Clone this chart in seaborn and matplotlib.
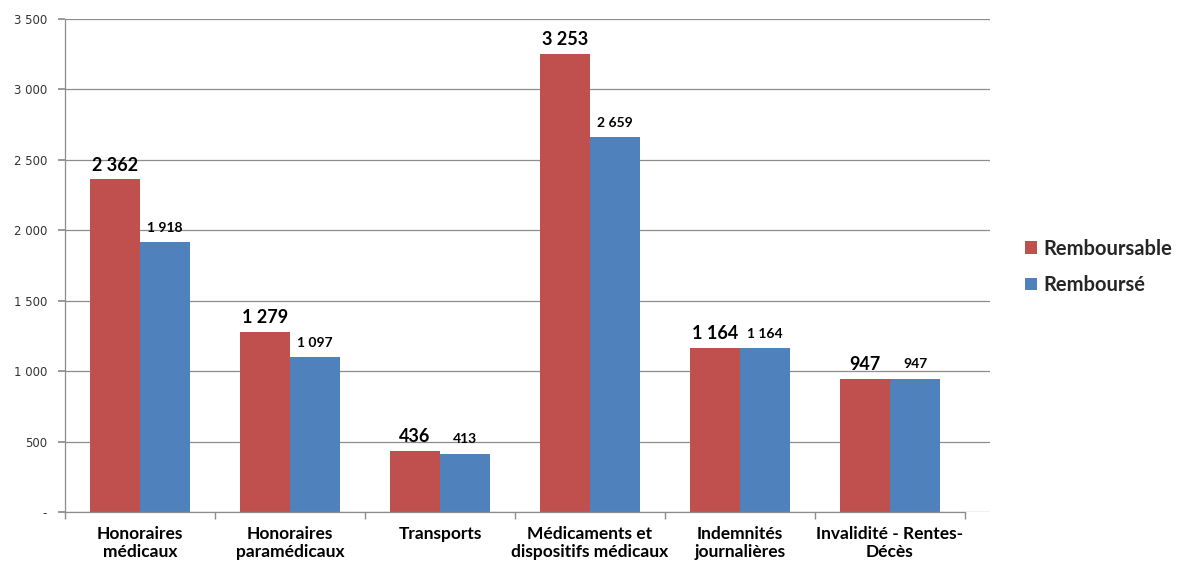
import matplotlib
matplotlib.use("Agg")
import matplotlib.pyplot as plt
import seaborn as sns
import pandas as pd
from matplotlib.ticker import FuncFormatter, FixedLocator

categories = ["Honoraires\nmédicaux", "Honoraires\nparamédicaux", "Transports",
              "Médicaments et\ndispositifs médicaux", "Indemnités\njournalières",
              "Invalidité - Rentes-\nDécès"]
remboursable = [2362, 1279, 436, 3253, 1164, 947]
rembourse = [1918, 1097, 413, 2659, 1164, 947]
series = ["Remboursable", "Remboursé"]
colors = ["#C0504D", "#4F81BD"]

df = pd.DataFrame({
    "cat": categories * 2,
    "val": remboursable + rembourse,
    "serie": [series[0]] * len(categories) + [series[1]] * len(categories),
})

sns.set_theme(style="white")
plt.rcParams["font.family"] = ["Lato", "DejaVu Sans"]

fig = plt.figure(figsize=(11.82, 5.63), dpi=100)
ax = fig.add_axes([65 / 1182, 1 - 512 / 563, 925 / 1182, 493 / 563])

sns.barplot(data=df, x="cat", y="val", hue="serie", palette=colors, width=0.667,
            saturation=1, ax=ax, edgecolor="none")

fmt = lambda v: f"{int(round(v)):,}".replace(",", " ")
for i, cont in enumerate(ax.containers):
    ax.bar_label(cont, labels=[fmt(b.get_height()) for b in cont],
                 fontsize=13 if i == 0 else 10, fontweight="bold",
                 padding=4 if i == 0 else 6, color="black")

n = len(categories)
ax.set_ylim(0, 3500)
ax.set_xlim(-0.5, n - 0.5 + 25 / 150)
ax.yaxis.set_major_locator(FixedLocator(range(0, 3501, 500)))
ax.yaxis.set_major_formatter(FuncFormatter(lambda v, p: "-" if v == 0 else fmt(v)))
ax.grid(axis="y", color="#8c8c8c", linewidth=0.9)
ax.set_axisbelow(True)
for s in ["top", "right"]:
    ax.spines[s].set_visible(False)
for s in ["left", "bottom"]:
    ax.spines[s].set_color("#8c8c8c")
    ax.spines[s].set_linewidth(0.9)
ax.spines["bottom"].set_bounds(-0.5, n - 0.5)

ax.tick_params(axis="y", length=5, color="#8c8c8c", labelsize=8.5, labelcolor="#333333",
               left=True, pad=8)
for lab in ax.get_yticklabels():
    lab.set_family("DejaVu Sans")
ax.set_xticks(range(n))
ax.set_xticklabels(categories, fontsize=12.5, fontweight="bold", color="black")
ax.set_xticks([x - 0.5 for x in range(n + 1)], minor=True)
ax.tick_params(axis="x", which="major", length=0, pad=10)
ax.tick_params(axis="x", which="minor", length=5, color="#8c8c8c", bottom=True)
ax.set_xlabel("")
ax.set_ylabel("")

leg = ax.legend(loc="center left", bbox_to_anchor=(1 + 35 / 925, 0.497), frameon=False,
                prop={"size": 14.5, "weight": "bold"}, handlelength=0.6, handleheight=0.6,
                handletextpad=0.3, labelspacing=0.8, borderaxespad=0, borderpad=0)

fig.savefig("out.png", dpi=100)
